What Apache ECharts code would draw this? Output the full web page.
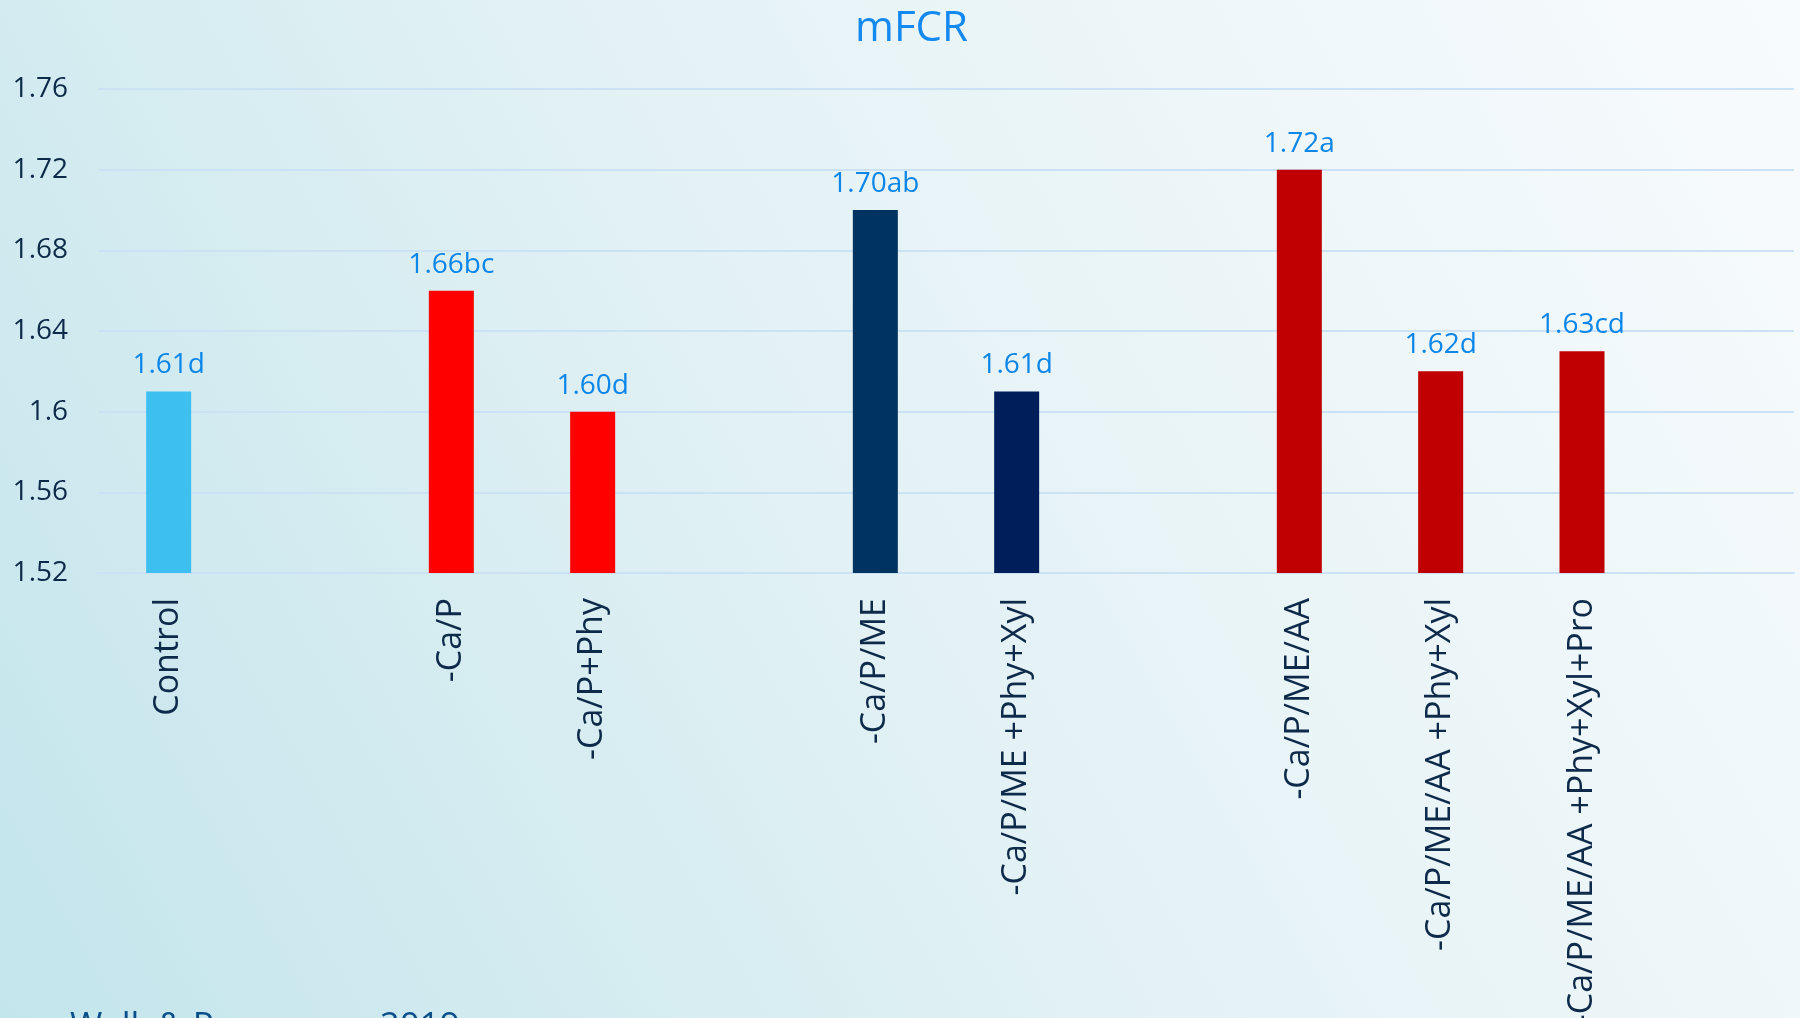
<!DOCTYPE html>
<html>
<head>
<meta charset="utf-8">
<script src="https://cdn.jsdelivr.net/npm/echarts@6/dist/echarts.min.js"></script>
<style>
html,body{margin:0;padding:0;width:1800px;height:1018px;overflow:hidden;}
#chart{width:1800px;height:1018px;}
</style>
</head>
<body>
<div id="chart"></div>
<script>
const categories = ['Control', '', '-Ca/P', '-Ca/P+Phy', '', '-Ca/P/ME', '-Ca/P/ME +Phy+Xyl', '', '-Ca/P/ME/AA', '-Ca/P/ME/AA +Phy+Xyl', '-Ca/P/ME/AA +Phy+Xyl+Pro', ''];
const values = [1.61, '-', 1.66, 1.60, '-', 1.70, 1.61, '-', 1.72, 1.62, 1.63, '-'];
const letters = ['d', '', 'bc', 'd', '', 'ab', 'd', '', 'a', 'd', 'cd', ''];
const barColors = ['#3DBFEF', null, '#FF0000', '#FF0000', null, '#00335F', '#001E5A', null, '#C00000', '#C00000', '#C00000', null];
const yTicks = { min: 1.52, max: 1.76, interval: 0.04 };
const titleText = 'mFCR';
const sourceText = 'Walk & Poernama, 2019';

const font = '"Open Sans", "Noto Sans", sans-serif';
const chart = echarts.init(document.getElementById('chart'), null, { renderer: 'canvas' });

const barData = values.map((v, i) => v === '-' ? '-' : {
  value: v,
  itemStyle: { color: barColors[i] },
  label: { formatter: v.toFixed(2) + letters[i] }
});

chart.setOption({
  backgroundColor: new echarts.graphic.LinearGradient(0, 1, 1, 0, [
    { offset: 0, color: '#C3E5EC' },
    { offset: 0.5, color: '#E4F2F5' },
    { offset: 1, color: '#F8FBFD' }
  ]),
  animation: false,
  title: {
    text: titleText,
    left: 850,
    top: 3,
    textStyle: { fontFamily: font, fontSize: 42, fontWeight: 'normal', color: '#1589F2' }
  },
  grid: { left: 98, right: 6, top: 89, bottom: 445, containLabel: false, outerBoundsMode: 'none' },
  xAxis: {
    type: 'category',
    data: categories,
    boundaryGap: true,
    axisLine: { show: true, lineStyle: { color: '#CBE2F6', width: 2 } },
    axisTick: { show: false },
    axisLabel: {
      interval: 0,
      rotate: 90,
      margin: 25,
      fontFamily: font,
      fontSize: 34,
      color: '#0D2A4A'
    },
    splitLine: { show: false }
  },
  yAxis: {
    type: 'value',
    min: yTicks.min,
    max: yTicks.max,
    interval: yTicks.interval,
    axisLine: { show: false },
    axisTick: { show: false },
    axisLabel: {
      margin: 30,
      fontFamily: font,
      fontSize: 28,
      color: '#0D2A4A'
    },
    splitLine: { show: true, lineStyle: { color: '#CBE2F6', width: 2 } }
  },
  series: [{
    type: 'bar',
    data: barData,
    barWidth: 45,
    label: {
      show: true,
      position: 'top',
      distance: 12,
      fontFamily: font,
      fontSize: 28,
      color: '#0C86E8'
    }
  }],
  graphic: [{
    type: 'text',
    left: 70,
    top: 1010,
    style: {
      text: sourceText,
      fontFamily: font,
      fontSize: 35,
      fill: '#0B4F8A'
    }
  }]
});
</script>
</body>
</html>
